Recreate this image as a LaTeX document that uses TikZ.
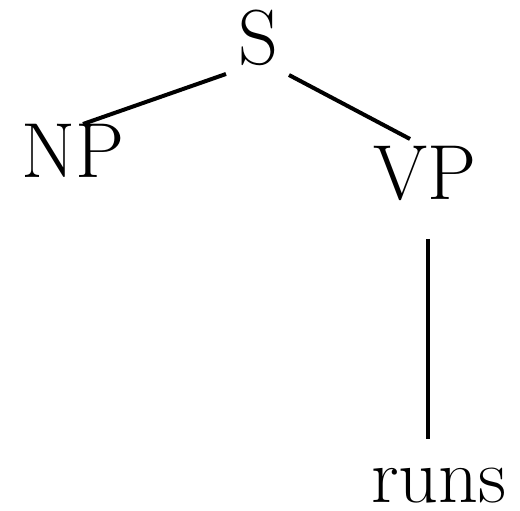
\documentclass[tikz,border=0pt]{standalone}
\begin{document}
\begin{tikzpicture}[x=1pt,y=1pt,
  lbl/.style={anchor=base,inner sep=0pt,font=\fontsize{78}{90}\selectfont},
  edge/.style={line width=4pt}]
\useasboundingbox (0,0) rectangle (520,511);
\node[lbl] (S) at (258,446) {S};
\node[lbl] (NP) at (73,333) {NP};
\node[lbl] (VP) at (425,311) {VP};
\node[lbl] (runs) at (439,8) {runs};
\draw[edge] ([shift={(-32,-9)}]S.base) -- ([shift={(10,54)}]NP.base);
\draw[edge] ([shift={(31,-10)}]S.base) -- ([shift={(-15,61)}]VP.base);
\draw[edge] ([shift={(3,-39)}]VP.base) -- ([shift={(-11,64)}]runs.base);
\end{tikzpicture}
\end{document}
